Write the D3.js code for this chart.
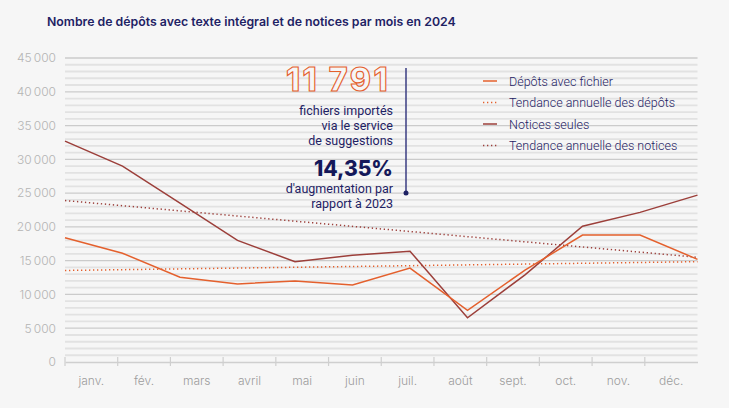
<!doctype html>
<html>
<head>
<meta charset="utf-8">
<script src="https://d3js.org/d3.v7.min.js"></script>
<style>
  body { margin: 0; background: #f6f6f6; }
  svg { display: block; font-family: Inter, "Noto Sans", sans-serif; }
</style>
</head>
<body>
<script>
// data
var months = ["janv.", "fév.", "mars", "avril", "mai", "juin", "juil.", "août", "sept.", "oct.", "nov.", "déc."];
var depots = [18400, 16100, 12550, 11550, 12000, 11400, 13900, 7650, 13600, 18800, 18800, 15200];
var notices = [32700, 29000, 23500, 18000, 14850, 15800, 16400, 6550, 12900, 20100, 22150, 24700];
// trend lines: value at janv. and at déc.
var trendDepots = [13550, 14850];
var trendNotices = [23900, 15500];
var yTicks = [0, 5000, 10000, 15000, 20000, 25000, 30000, 35000, 40000, 45000];
var legendLabels = ["Dépôts avec fichier", "Tendance annuelle des dépôts", "Notices seules", "Tendance annuelle des notices"];

var W = 729, H = 408;
var orange = "#e4602d", red = "#9c3f3a", navy = "#1e2264";

var svg = d3.select("body").append("svg")
    .attr("width", W)
    .attr("height", H);

svg.append("rect").attr("width", W).attr("height", H).attr("fill", "#f6f6f6");

var yScale = d3.scaleLinear().domain([0, 45000]).range([362, 58]);
var xBand = d3.scaleBand().domain(months).range([65, 697.5]);
var xPoint = d3.scalePoint().domain(months).range([65, 697.5]);

var fr = d3.formatLocale({ decimal: ",", thousands: "\u202f", grouping: [3], currency: ["", " €"] });

// title
svg.append("text")
    .attr("x", 47).attr("y", 26)
    .attr("fill", navy)
    .style("font-size", "12.3px")
    .style("font-weight", 600)
    .text("Nombre de dépôts avec texte intégral et de notices par mois en 2024");

// grid: one line every 1000, darker every 5000
var grid = svg.append("g");
grid.selectAll("line")
    .data(d3.range(1000, 45001, 1000))
    .enter().append("line")
    .attr("x1", 65).attr("x2", 697.5)
    .attr("y1", function(d) { return yScale(d); })
    .attr("y2", function(d) { return yScale(d); })
    .attr("stroke", function(d) { return d % 5000 === 0 ? "#cbcbcb" : "#e2e2e2"; })
    .attr("stroke-width", function(d) { return d % 5000 === 0 ? 1.3 : 1.8; });

// y axis labels
var yAxis = svg.append("g")
    .attr("transform", "translate(65,0)")
    .call(d3.axisLeft(yScale).tickValues(yTicks).tickSize(0).tickPadding(9).tickFormat(fr.format(",")));
yAxis.select(".domain").remove();
yAxis.selectAll("text")
    .attr("fill", "#b4b4b4")
    .style("font-size", "12px")
    .style("font-weight", 300)
    .style("font-family", "Inter, sans-serif");

// x axis
var xAxis = svg.append("g")
    .attr("transform", "translate(0," + yScale(0) + ")")
    .call(d3.axisBottom(xBand).tickSize(0).tickPadding(14));
xAxis.select(".domain").attr("stroke", "#cfcfcf").attr("stroke-width", 1.5);
xAxis.selectAll("text")
    .attr("fill", "#9c9c9c")
    .style("font-size", "12px")
    .style("font-weight", 300)
    .style("font-family", "Inter, sans-serif");
svg.append("g").selectAll("line")
    .data(months)
    .enter().append("line")
    .attr("x1", function(d) { return xBand(d); })
    .attr("x2", function(d) { return xBand(d); })
    .attr("y1", yScale(0) - 5).attr("y2", yScale(0) + 4)
    .attr("stroke", "#cfcfcf").attr("stroke-width", 1.2);

// trend lines (dotted)
var ends = [months[0], months[months.length - 1]];
function trend(vals, color) {
    svg.append("path")
        .datum(vals)
        .attr("fill", "none")
        .attr("stroke", color)
        .attr("stroke-width", 1.5)
        .attr("stroke-dasharray", "1.3,2.7")
        .attr("d", d3.line()
            .x(function(d, i) { return xPoint(ends[i]); })
            .y(function(d) { return yScale(d); }));
}
trend(trendNotices, red);
trend(trendDepots, orange);

// series lines
var line = d3.line()
    .x(function(d, i) { return xPoint(months[i]); })
    .y(function(d) { return yScale(d); });
svg.append("path").datum(notices)
    .attr("fill", "none").attr("stroke", red).attr("stroke-width", 1.5).attr("d", line);
svg.append("path").datum(depots)
    .attr("fill", "none").attr("stroke", orange).attr("stroke-width", 1.5).attr("d", line);

// annotation
var ann = svg.append("g");
ann.append("line")
    .attr("x1", 406).attr("x2", 406).attr("y1", 68).attr("y2", 193)
    .attr("stroke", "#3a3c82").attr("stroke-width", 1.5);
ann.append("circle").attr("cx", 406).attr("cy", 193).attr("r", 2.5).attr("fill", navy);
ann.append("text")
    .attr("x", 390).attr("y", 91)
    .attr("text-anchor", "end")
    .attr("fill", "#f6f6f6")
    .attr("stroke", orange)
    .attr("stroke-width", 1.1)
    .style("font-size", "32px")
    .style("font-weight", 800)
    .style("letter-spacing", "2.5px")
    .text("11 791");
ann.selectAll(".sub1")
    .data(["fichiers importés", "via le service", "de suggestions"])
    .enter().append("text")
    .attr("x", 393)
    .attr("y", function(d, i) { return 115 + i * 15; })
    .attr("text-anchor", "end")
    .attr("fill", navy)
    .style("font-size", "12.5px")
    .style("font-weight", 400)
    .style("font-family", "Roboto, sans-serif")
    .text(function(d) { return d; });
ann.append("text")
    .attr("x", 393).attr("y", 176)
    .attr("text-anchor", "end")
    .attr("fill", "#14185a")
    .style("font-size", "21px")
    .style("font-weight", 800)
    .text("14,35%");
ann.selectAll(".sub2")
    .data(["d'augmentation par", "rapport à 2023"])
    .enter().append("text")
    .attr("x", 393)
    .attr("y", function(d, i) { return 193 + i * 14.5; })
    .attr("text-anchor", "end")
    .attr("fill", navy)
    .style("font-size", "12.5px")
    .style("font-weight", 400)
    .style("font-family", "Roboto, sans-serif")
    .text(function(d) { return d; });

// legend
var legColors = [orange, orange, red, red];
var legDash = [null, "1.3,2.7", null, "1.3,2.7"];
var leg = svg.append("g").selectAll("g")
    .data(legendLabels)
    .enter().append("g")
    .attr("transform", function(d, i) { return "translate(483," + (81 + i * 21.5) + ")"; });
leg.append("line")
    .attr("x1", 0).attr("x2", 14)
    .attr("stroke", function(d, i) { return legColors[i]; })
    .attr("stroke-width", 1.5)
    .attr("stroke-dasharray", function(d, i) { return legDash[i]; });
leg.append("text")
    .attr("x", 26).attr("y", 4.5)
    .attr("fill", navy)
    .style("font-size", "12.5px")
    .style("font-weight", 300)
    .style("font-family", "Roboto, sans-serif")
    .text(function(d) { return d; });
</script>
</body>
</html>
